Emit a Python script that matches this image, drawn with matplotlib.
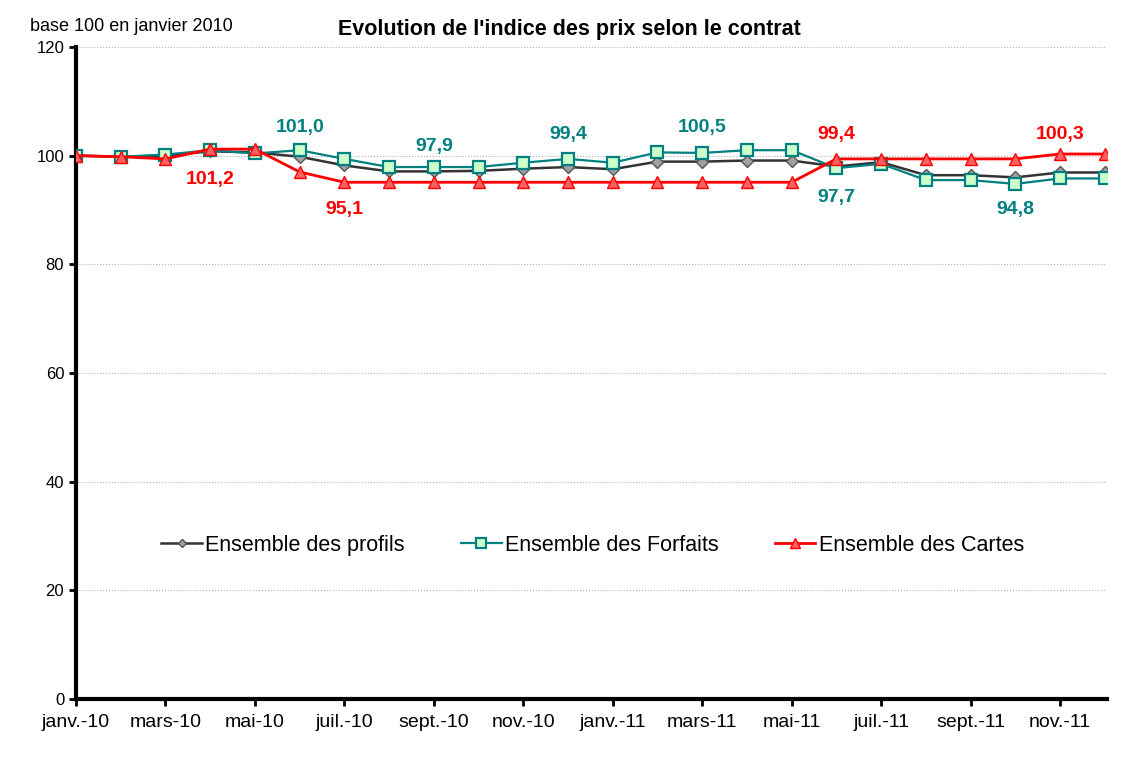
import matplotlib
matplotlib.use("Agg")
import matplotlib.pyplot as plt

plt.rcParams['font.family'] = ['Liberation Sans', 'DejaVu Sans']

# months jan 2010 .. dec 2011
mois = ["janv.-10", "févr.-10", "mars-10", "avr.-10", "mai-10", "juin-10",
        "juil.-10", "août-10", "sept.-10", "oct.-10", "nov.-10", "déc.-10",
        "janv.-11", "févr.-11", "mars-11", "avr.-11", "mai-11", "juin-11",
        "juil.-11", "août-11", "sept.-11", "oct.-11", "nov.-11", "déc.-11"]

profils = [100.0, 99.8, 100.0, 100.8, 100.6, 99.8, 98.2, 97.1, 97.1, 97.2, 97.6, 97.9,
           97.5, 98.9, 98.9, 99.1, 99.1, 98.0, 98.8, 96.4, 96.4, 96.0, 96.9, 96.9]
forfaits = [100.0, 99.8, 100.2, 101.0, 100.4, 101.0, 99.4, 97.9, 97.9, 97.9, 98.7, 99.4,
            98.7, 100.6, 100.5, 101.0, 101.0, 97.7, 98.5, 95.5, 95.5, 94.8, 95.8, 95.8]
cartes = [100.0, 99.8, 99.4, 101.2, 101.2, 97.0, 95.1, 95.1, 95.1, 95.1, 95.1, 95.1,
          95.1, 95.1, 95.1, 95.1, 95.1, 99.4, 99.4, 99.4, 99.4, 99.4, 100.3, 100.3]

# data labels: (index, text, label height)
lab_forfaits = [(5, "101,0", 105.1), (8, "97,9", 101.6), (11, "99,4", 103.9),
                (14, "100,5", 105.1), (17, "97,7", 92.3), (21, "94,8", 90.1)]
lab_cartes = [(3, "101,2", 95.6), (6, "95,1", 90.1), (17, "99,4", 103.9),
              (22, "100,3", 103.9)]

teal = "#008080"
red = "#ff0000"

fig = plt.figure(figsize=(11.45, 7.79), dpi=100)
ax = fig.add_axes([0.0664, 0.1027, 0.9004, 0.837])

x = list(range(len(mois)))

ax.plot(x, profils, color="#333333", lw=1.8, marker="D", ms=6,
        mfc="#a0a0a0", mec="#555555", mew=1, label="Ensemble des profils", zorder=3)
ax.plot(x, forfaits, color=teal, lw=1.6, marker="s", ms=9,
        mfc="#ccffcc", mec=teal, mew=1.6, label="Ensemble des Forfaits", zorder=4)
ax.plot(x, cartes, color=red, lw=2, marker="^", ms=9,
        mfc="#ff6060", mec=red, mew=1, label="Ensemble des Cartes", zorder=5)

for i, t, yy in lab_forfaits:
    ax.text(i, yy, t, color=teal, fontsize=14, fontweight="bold",
            ha="center", va="center")
for i, t, yy in lab_cartes:
    ax.text(i, yy, t, color=red, fontsize=14, fontweight="bold",
            ha="center", va="center")

ax.set_xlim(0, 23.05)
ax.set_ylim(0, 120)
ax.set_yticks(range(0, 121, 20))
ax.set_xticks(x[::2])
ax.set_xticklabels(mois[::2])
ax.tick_params(axis="both", labelsize=12, direction="out", length=5, width=2)
ax.tick_params(axis="x", labelsize=14, pad=6)

ax.grid(axis="y", color="#b0b0b0", ls=":", lw=0.8)
ax.set_axisbelow(True)
for s in ["top", "right"]:
    ax.spines[s].set_visible(False)
for s in ["left", "bottom"]:
    ax.spines[s].set_linewidth(3)

ax.legend(loc="center", bbox_to_anchor=(0.501, 0.236), ncol=3, frameon=False,
          fontsize=15.5, handlelength=1.9, handletextpad=0.15, columnspacing=2.6,
          markerscale=0.75)

fig.text(0.497, 0.962, "Evolution de l'indice des prix selon le contrat",
         fontsize=15.5, fontweight="bold", ha="center", va="center")
fig.text(0.026, 0.966, "base 100 en janvier 2010", fontsize=13,
         ha="left", va="center")

fig.savefig("out.png", dpi=100)
